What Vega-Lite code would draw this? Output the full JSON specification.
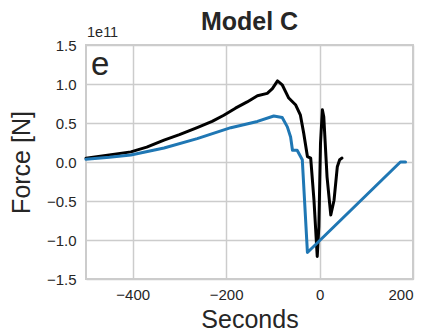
{
  "$schema": "https://vega.github.io/schema/vega-lite/v6.json",
  "width": 327,
  "height": 234,
  "autosize": "none",
  "padding": {"left": 86, "top": 45, "right": 15, "bottom": 56},
  "background": "white",
  "config": {
    "font": "Liberation Sans",
    "view": {"stroke": "#cccccc", "strokeWidth": 2},
    "axis": {"grid": true, "gridColor": "#cccccc", "gridWidth": 1.5, "domain": false, "ticks": false, "labelColor": "#262626", "titleColor": "#262626", "labelFontSize": 15, "titleFontSize": 25, "titleFontWeight": "normal", "labelOverlap": false}
  },
  "title": {"text": "Model C", "fontSize": 25, "fontWeight": "bold", "color": "#262626", "offset": -10, "anchor": "middle", "frame": "group"},
  "datasets": {
    "lines": [
      {"t": -500, "v": 0.047, "s": "black"},
      {"t": -450, "v": 0.09, "s": "black"},
      {"t": -404, "v": 0.13, "s": "black"},
      {"t": -370, "v": 0.19, "s": "black"},
      {"t": -333, "v": 0.28, "s": "black"},
      {"t": -300, "v": 0.35, "s": "black"},
      {"t": -262, "v": 0.44, "s": "black"},
      {"t": -230, "v": 0.52, "s": "black"},
      {"t": -205, "v": 0.60, "s": "black"},
      {"t": -180, "v": 0.69, "s": "black"},
      {"t": -155, "v": 0.77, "s": "black"},
      {"t": -133, "v": 0.85, "s": "black"},
      {"t": -112, "v": 0.88, "s": "black"},
      {"t": -101, "v": 0.94, "s": "black"},
      {"t": -90, "v": 1.04, "s": "black"},
      {"t": -80, "v": 0.99, "s": "black"},
      {"t": -66, "v": 0.82, "s": "black"},
      {"t": -51, "v": 0.73, "s": "black"},
      {"t": -41, "v": 0.60, "s": "black"},
      {"t": -34, "v": 0.37, "s": "black"},
      {"t": -26, "v": 0.07, "s": "black"},
      {"t": -19, "v": 0.05, "s": "black"},
      {"t": -12, "v": -0.49, "s": "black"},
      {"t": -5, "v": -1.21, "s": "black"},
      {"t": -1.5, "v": -0.83, "s": "black"},
      {"t": 2, "v": 0.24, "s": "black"},
      {"t": 6, "v": 0.67, "s": "black"},
      {"t": 9, "v": 0.58, "s": "black"},
      {"t": 16, "v": -0.19, "s": "black"},
      {"t": 24, "v": -0.68, "s": "black"},
      {"t": 31, "v": -0.49, "s": "black"},
      {"t": 38, "v": -0.06, "s": "black"},
      {"t": 43, "v": 0.03, "s": "black"},
      {"t": 48, "v": 0.05, "s": "black"},
      {"t": -500, "v": 0.035, "s": "blue"},
      {"t": -450, "v": 0.06, "s": "blue"},
      {"t": -404, "v": 0.09, "s": "blue"},
      {"t": -333, "v": 0.18, "s": "blue"},
      {"t": -262, "v": 0.30, "s": "blue"},
      {"t": -190, "v": 0.44, "s": "blue"},
      {"t": -133, "v": 0.52, "s": "blue"},
      {"t": -98, "v": 0.59, "s": "blue"},
      {"t": -80, "v": 0.57, "s": "blue"},
      {"t": -69, "v": 0.45, "s": "blue"},
      {"t": -62, "v": 0.32, "s": "blue"},
      {"t": -58, "v": 0.15, "s": "blue"},
      {"t": -48, "v": 0.15, "s": "blue"},
      {"t": -37, "v": 0.03, "s": "blue"},
      {"t": -26, "v": -1.16, "s": "blue"},
      {"t": 173, "v": 0.0, "s": "blue"},
      {"t": 184, "v": 0.0, "s": "blue"}
    ],
    "labels": [
      {"t": -500, "v": 1.5, "label": "1e11", "kind": "exp"},
      {"t": -500, "v": 1.5, "label": "e", "kind": "panel"}
    ]
  },
  "layer": [
    {
      "data": {"name": "lines"},
      "mark": {"type": "line", "strokeWidth": 3, "strokeJoin": "round", "strokeCap": "round"},
      "encoding": {
        "x": {"field": "t", "type": "quantitative", "scale": {"domain": [-500, 200], "nice": false}, "axis": {"values": [-400, -200, 0, 200], "title": "Seconds", "labelPadding": 8, "titlePadding": 5}},
        "y": {"field": "v", "type": "quantitative", "scale": {"domain": [-1.5, 1.5], "nice": false}, "axis": {"tickCount": 6, "format": ".1f", "title": "Force [N]", "labelPadding": 10, "titlePadding": 12}},
        "color": {"field": "s", "type": "nominal", "scale": {"domain": ["black", "blue"], "range": ["#000000", "#1f77b4"]}, "legend": null},
        "order": {"field": "t", "type": "quantitative"}
      }
    },
    {
      "data": {"name": "labels"},
      "transform": [{"filter": "datum.kind == 'exp'"}],
      "mark": {"type": "text", "align": "left", "baseline": "alphabetic", "dx": 1, "dy": -8, "fontSize": 14.5, "color": "#262626"},
      "encoding": {
        "x": {"field": "t", "type": "quantitative"},
        "y": {"field": "v", "type": "quantitative"},
        "text": {"field": "label"}
      }
    },
    {
      "data": {"name": "labels"},
      "transform": [{"filter": "datum.kind == 'panel'"}],
      "mark": {"type": "text", "align": "left", "baseline": "alphabetic", "dx": 5, "dy": 30, "fontSize": 33, "color": "#262626"},
      "encoding": {
        "x": {"field": "t", "type": "quantitative"},
        "y": {"field": "v", "type": "quantitative"},
        "text": {"field": "label"}
      }
    }
  ]
}
